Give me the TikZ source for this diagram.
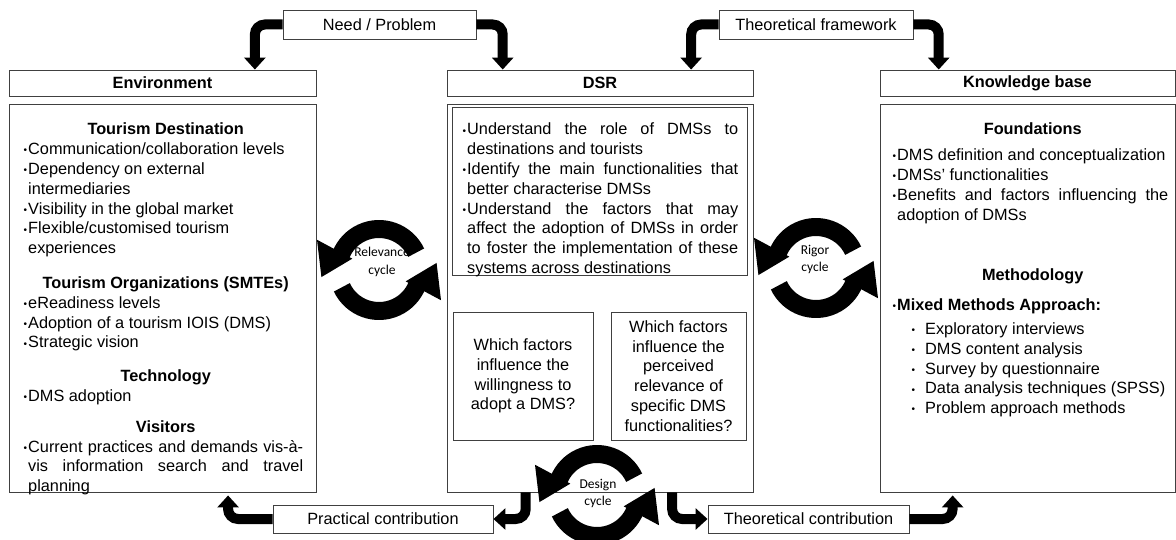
\documentclass[tikz,border=0pt]{standalone}
\usepackage{fontspec}
\setmainfont{Liberation Sans}
\newfontfamily\calfont{Carlito}
\usetikzlibrary{arrows.meta,calc}
\newcommand\bu{\par\noindent\llap{{\fontsize{10}{10}\selectfont\raisebox{0.8pt}{•}}\hspace{1pt}}}
\newcommand\sbu{\par\noindent\llap{{\fontsize{10}{10}\selectfont\raisebox{0.8pt}{•}}\hspace{10pt}}}
\newcommand\hd[1]{\par{\centering\bfseries #1\par}}
\begin{document}
\begin{tikzpicture}[x=1pt,y=-1pt,
  fnt/.style={font=\fontsize{16.3}{19.8}\selectfont},
  box/.style={fnt, draw=black!75, line width=0.9pt, fill=white, inner sep=0pt, align=center},
  conn/.style={line width=10pt, rounded corners=10pt, -{Triangle[width=21pt,length=12pt]}},
  txt/.style={fnt, inner sep=0pt, align=justify, anchor=north west},
  cyct/.style={font=\calfont\fontsize{13.5}{17.5}\selectfont, align=center, inner sep=0pt},
  cyc/.pic={
    \draw[line width=18pt] (25:41pt) arc[start angle=25,end angle=158,radius=41pt];
    \fill (154:69pt) -- (187:58pt) -- (157:29pt) -- cycle;
    \draw[line width=18pt] (205:41pt) arc[start angle=205,end angle=338,radius=41pt];
    \fill (334:69pt) -- (7:58pt) -- (337:29pt) -- cycle;
  }
]
\useasboundingbox (0,0) rectangle (1176,540);

% headers
\node[box, minimum width=307, minimum height=26] (envh) at (162.5,83) {\bfseries Environment};
\node[box, minimum width=306, minimum height=26] (dsrh) at (600,83) {\bfseries DSR};
\node[box, minimum width=295, minimum height=26] (kbh) at (1027.5,83) {\bfseries Knowledge base};

% bodies
\node[box, minimum width=307, minimum height=388] (envb) at (162.5,298) {};
\node[box, minimum width=306, minimum height=388] (dsrb) at (600,298) {};
\node[box, minimum width=295, minimum height=388] (kbb) at (1027.5,298) {};

% DSR inner boxes
\node[box, minimum width=295, minimum height=168] (dsri) at (599.5,191) {};
\node[box, minimum width=140, minimum height=128] (q1) at (523,376) {Which factors\\influence the\\willingness to\\adopt a DMS?};
\node[box, minimum width=135, minimum height=128] (q2) at (678.5,376) {Which factors\\influence the\\perceived\\relevance of\\specific DMS\\functionalities?};

% top / bottom label boxes
\node[box, minimum width=193, minimum height=29] (np) at (379.5,24.5) {Need / Problem};
\node[box, minimum width=194, minimum height=29] (tf) at (816,24.5) {Theoretical framework};
\node[box, minimum width=220, minimum height=28] (pc) at (383,519) {Practical contribution};
\node[box, minimum width=201, minimum height=28] (tc) at (808.5,519) {Theoretical contribution};

% texts
\node[txt, text width=275] (envt) at (28,115) {%
\hd{Tourism Destination}
\bu Communication/collaboration levels
\bu Dependency on external\newline intermediaries
\bu Visibility in the global market
\bu Flexible/customised tourism\newline experiences
\par\vskip15pt
\hd{Tourism Organizations (SMTEs)}
\bu eReadiness levels
\bu Adoption of a tourism IOIS (DMS)
\bu Strategic vision
\par\vskip14pt
\hd{Technology}
\bu DMS adoption
\par\vskip11pt
\hd{Visitors}
\bu Current practices and demands vis-à-\linebreak vis information search and travel\linebreak planning\par};

\node[txt, text width=271] (dsrt) at (467,115) {%
\bu Understand the role of DMSs to\linebreak destinations and tourists
\bu Identify the main functionalities that\linebreak better characterise DMSs
\bu Understand the factors that may\linebreak affect the adoption of DMSs in order\linebreak to foster the implementation of these\linebreak systems across destinations\par};

\node[txt, text width=271] (kbt) at (897,115) {%
\hd{Foundations}
\vskip6pt
\bu DMS definition and conceptualization
\bu DMSs' functionalities
\bu Benefits and factors influencing the\linebreak adoption of DMSs
\par\vskip41pt
\hd{Methodology}
\vskip10pt
\bu\textbf{Mixed Methods Approach:}
\par\vskip4pt
{\leftskip=28pt
\sbu Exploratory interviews
\sbu DMS content analysis
\sbu Survey by questionnaire
\sbu Data analysis techniques (SPSS)
\sbu Problem approach methods\par}};

% connectors
\draw[conn] (np.west) -| ($(envh.north west)!0.8!(envh.north east)$);
\draw[conn] (np.east) -| ($(dsrh.north west)!0.183!(dsrh.north east)$);
\draw[conn] (tf.west) -| ($(dsrh.north west)!0.797!(dsrh.north east)$);
\draw[conn] (tf.east) -| ($(kbh.north west)!0.2!(kbh.north east)$);
\draw[conn, shorten >=3pt] (pc.west) -| ($(envb.south west)!0.713!(envb.south east)$);
\draw[conn] ($(dsrb.south west)!0.258!(dsrb.south east)$) |- (pc.east);
\draw[conn] ($(dsrb.south west)!0.735!(dsrb.south east)$) |- (tc.west);
\draw[conn, shorten >=3pt] (tc.east) -| ($(kbb.south west)!0.247!(kbb.south east)$);

% cycles
\pic at (379,270) {cyc};
\pic at (816,268) {cyc};
\pic at (597,495) {cyc};
\node[cyct] (rct) at (382,262) {Relevance\\cycle};
\node[cyct] (rgt) at (815,259.5) {Rigor\\cycle};
\node[cyct] (dct) at (598,493.5) {Design\\cycle};
\end{tikzpicture}
\end{document}
